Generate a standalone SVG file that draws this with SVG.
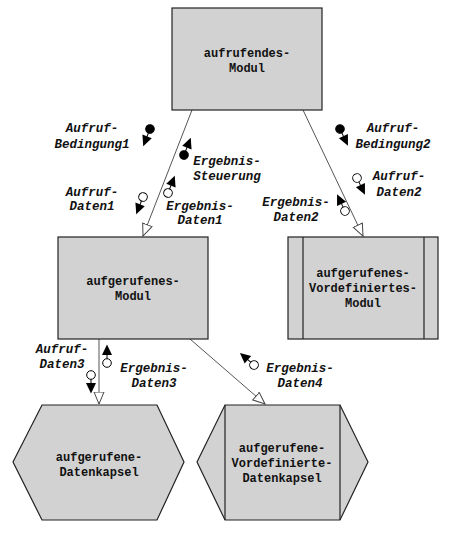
<svg xmlns="http://www.w3.org/2000/svg" width="452" height="538" viewBox="0 0 452 538">
<style>
.box{fill:#d2d2d2;stroke:#222;stroke-width:1.2}
.div{fill:none;stroke:#222;stroke-width:1.2}
.nt{font-family:"Liberation Mono","DejaVu Sans Mono",monospace;font-weight:bold;font-size:12px;fill:#111;text-anchor:middle}
.lt{font-family:"Liberation Mono","DejaVu Sans Mono",monospace;font-weight:bold;font-style:italic;font-size:12.5px;fill:#111;text-anchor:middle}
.conn{fill:none;stroke:#555;stroke-width:1;marker-end:url(#open)}
.cf{fill:#000;stroke:#000;stroke-width:1}
.co{fill:#fff;stroke:#000;stroke-width:1}
.cl{stroke:#000;stroke-width:1}
.ah{fill:#000}
</style>
<defs>
<marker id="open" markerUnits="userSpaceOnUse" markerWidth="14" markerHeight="12" refX="12.5" refY="5.5" orient="auto">
<path d="M0.5,0.5 L12.5,5.5 L0.5,10.5 Z" fill="#fff" stroke="#444" stroke-width="1"/>
</marker>
<g id="cfill"><line class="cl" x1="3" y1="0" x2="9" y2="0"/><circle class="cf" cx="0" cy="0" r="4.3"/><path class="ah" d="M8,-5 L18.5,0 L8,5 Z"/></g>
<g id="copen"><line class="cl" x1="4" y1="0" x2="9" y2="0"/><circle class="co" cx="0" cy="0" r="4.3"/><path class="ah" d="M8,-5 L18.5,0 L8,5 Z"/></g>
</defs>

<g id="connectors">
<line class="conn" x1="192" y1="110" x2="143" y2="236"/>
<line class="conn" x1="303" y1="110" x2="363" y2="236"/>
<line class="conn" x1="99" y1="339" x2="99" y2="404"/>
<line class="conn" x1="190" y1="339" x2="265" y2="404"/>
</g>

<g id="aufrufendes-Modul">
<rect class="box" x="172" y="8" width="150" height="102"/>
<text class="nt" x="247" y="57">aufrufendes-</text>
<text class="nt" x="247" y="72">Modul</text>
</g>

<g id="aufgerufenes-Modul">
<rect class="box" x="58" y="237" width="150" height="102"/>
<text class="nt" x="133" y="285">aufgerufenes-</text>
<text class="nt" x="133" y="300">Modul</text>
</g>

<g id="aufgerufenes-Vordefiniertes-Modul">
<rect class="box" x="288" y="237" width="150" height="102"/>
<line class="div" x1="303" y1="237" x2="303" y2="339"/>
<line class="div" x1="424" y1="237" x2="424" y2="339"/>
<text class="nt" x="363" y="277">aufgerufenes-</text>
<text class="nt" x="363" y="292">Vordefiniertes-</text>
<text class="nt" x="363" y="307">Modul</text>
</g>

<g id="aufgerufene-Datenkapsel">
<polygon class="box" points="42,405 157,405 184,462 157,520 42,520 13,462"/>
<text class="nt" x="99" y="461">aufgerufene-</text>
<text class="nt" x="99" y="476">Datenkapsel</text>
</g>

<g id="aufgerufene-Vordefinierte-Datenkapsel">
<polygon class="box" points="225,405 340,405 368,462 340,520 225,520 197,462"/>
<line class="div" x1="225" y1="405" x2="225" y2="520"/>
<line class="div" x1="340" y1="405" x2="340" y2="520"/>
<text class="nt" x="282" y="452">aufgerufene-</text>
<text class="nt" x="282" y="467">Vordefinierte-</text>
<text class="nt" x="282" y="482">Datenkapsel</text>
</g>

<g id="couple-Aufruf-Bedingung1">
<use href="#cfill" transform="translate(150,129) rotate(111.5)"/>
<text class="lt" x="92" y="132">Aufruf-</text>
<text class="lt" x="92" y="148">Bedingung1</text>
</g>
<g id="couple-Ergebnis-Steuerung">
<use href="#cfill" transform="translate(184,155) rotate(-68.5)"/>
<text class="lt" x="227" y="165">Ergebnis-</text>
<text class="lt" x="227" y="180">Steuerung</text>
</g>
<g id="couple-Aufruf-Daten1">
<use href="#copen" transform="translate(143,197) rotate(111.5)"/>
<text class="lt" x="92" y="196">Aufruf-</text>
<text class="lt" x="92" y="210">Daten1</text>
</g>
<g id="couple-Ergebnis-Daten1">
<use href="#copen" transform="translate(168,193) rotate(-68.5)"/>
<text class="lt" x="200" y="210">Ergebnis-</text>
<text class="lt" x="200" y="224">Daten1</text>
</g>
<g id="couple-Aufruf-Bedingung2">
<use href="#cfill" transform="translate(340,129) rotate(64.5)"/>
<text class="lt" x="393" y="132">Aufruf-</text>
<text class="lt" x="393" y="148">Bedingung2</text>
</g>
<g id="couple-Aufruf-Daten2">
<use href="#copen" transform="translate(357,178) rotate(64.5)"/>
<text class="lt" x="399" y="180">Aufruf-</text>
<text class="lt" x="399" y="196">Daten2</text>
</g>
<g id="couple-Ergebnis-Daten2">
<use href="#copen" transform="translate(345,211) rotate(-115.5)"/>
<text class="lt" x="296" y="206">Ergebnis-</text>
<text class="lt" x="296" y="221">Daten2</text>
</g>
<g id="couple-Aufruf-Daten3">
<use href="#copen" transform="translate(91,375) rotate(90)"/>
<text class="lt" x="62" y="353">Aufruf-</text>
<text class="lt" x="62" y="368">Daten3</text>
</g>
<g id="couple-Ergebnis-Daten3">
<use href="#copen" transform="translate(107,363) rotate(-90)"/>
<text class="lt" x="154" y="372">Ergebnis-</text>
<text class="lt" x="154" y="387">Daten3</text>
</g>
<g id="couple-Ergebnis-Daten4">
<use href="#copen" transform="translate(254,365) rotate(-139.5)"/>
<text class="lt" x="300" y="372">Ergebnis-</text>
<text class="lt" x="300" y="387">Daten4</text>
</g>
</svg>
